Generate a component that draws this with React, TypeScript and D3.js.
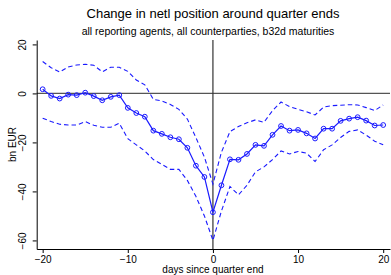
import { useEffect, useRef } from 'react';
import * as d3 from 'd3';

const days = [-20, -19, -18, -17, -16, -15, -14, -13, -12, -11, -10, -9, -8, -7, -6, -5, -4, -3, -2, -1, 0,
  1, 2, 3, 4, 5, 6, 7, 8, 9, 10, 11, 12, 13, 14, 15, 16, 17, 18, 19, 20];

const netPosition = [1.7, -1.0, -2.1, -0.5, -0.7, 0.3, -1.1, -2.8, -1.4, -0.7, -5.9, -8.0, -9.5, -15.2, -16.5, -17.9, -18.7, -22.2, -29.5, -34.1, -48.5,
  -37.5, -26.9, -27.1, -24.7, -21.0, -21.4, -16.9, -13.3, -15.2, -14.9, -16.3, -18.4, -14.4, -14.4, -11.2, -10.3, -9.7, -11.1, -13.1, -12.9];

const upperBand = [13.0, 10.5, 8.7, 10.8, 11.6, 11.9, 11.5, 8.8, 10.7, 10.7, 9.0, 5.5, 3.5, -2.4, -3.1, -4.5, -6.5, -10.5, -18.0, -26.0, -37.0,
  -24.0, -15.6, -13.5, -12.0, -10.8, -11.8, -7.0, -3.5, -5.4, -6.5, -7.5, -8.8, -5.6, -5.0, -4.8, -4.6, -4.7, -5.8, -7.0, -4.7];

const lowerBand = [-10.1, -11.5, -12.6, -12.9, -12.9, -11.5, -13.0, -13.8, -13.8, -12.2, -18.5, -21.0, -23.5, -27.0, -29.0, -31.0, -31.0, -35.5, -42.0, -50.0, -60.0,
  -48.0, -38.0, -41.4, -37.5, -32.0, -30.0, -27.0, -23.5, -24.7, -23.7, -24.4, -27.8, -23.0, -21.0, -18.0, -15.5, -14.9, -17.0, -19.5, -21.0];

const xTicks = [-20, -10, 0, 10, 20];
const yTicks = [-60, -40, -20, 0, 20];

const W = 391;
const H = 275;
const FONT = '"Liberation Sans", Arial, sans-serif';
const BLUE = '#1a1aff';

const App = () => {
  const svgRef = useRef<SVGSVGElement>(null);

  useEffect(() => {
    const svg = d3.select(svgRef.current);
    svg.selectAll('*').remove();

    const x = d3.scaleLinear().domain([-20.7, 20.8]).range([36.7, 390]);
    const y = d3.scaleLinear().domain([-63.5, 21.8]).range([249, 40]);

    // reference lines at zero
    svg.append('line')
      .attr('x1', x.range()[0]).attr('x2', x.range()[1])
      .attr('y1', y(0)).attr('y2', y(0))
      .attr('stroke', '#555').attr('stroke-width', 1.4);
    svg.append('line')
      .attr('x1', x(0)).attr('x2', x(0))
      .attr('y1', y.range()[1]).attr('y2', y.range()[0])
      .attr('stroke', '#333').attr('stroke-width', 1.2);

    // axes
    const yAxis = svg.append('g')
      .attr('transform', `translate(${x.range()[0]},0)`)
      .call(d3.axisLeft(y).tickValues(yTicks).tickSize(4).tickSizeOuter(0));
    yAxis.selectAll('text')
      .attr('transform', 'rotate(-90)')
      .attr('text-anchor', 'middle')
      .attr('x', 0).attr('y', -11).attr('dy', 0)
      .attr('font-size', 10).attr('font-family', FONT).attr('fill', '#000');

    const xAxis = svg.append('g')
      .attr('transform', `translate(0,${y.range()[0]})`)
      .call(d3.axisBottom(x).tickValues(xTicks).tickSize(4).tickSizeOuter(0));
    xAxis.selectAll('text')
      .attr('font-size', 10).attr('font-family', FONT).attr('fill', '#000');
    svg.selectAll('.domain, .tick line').attr('stroke', '#000');

    // series
    const line = d3.line<number>()
      .x((_, i) => x(days[i]))
      .y(d => y(d));

    svg.selectAll('.band')
      .data([upperBand, lowerBand])
      .enter().append('path')
      .attr('class', 'band')
      .attr('fill', 'none')
      .attr('stroke', BLUE)
      .attr('stroke-width', 1.1)
      .attr('stroke-dasharray', '4.5,3')
      .attr('d', d => line(d));

    svg.append('path')
      .attr('fill', 'none')
      .attr('stroke', BLUE)
      .attr('stroke-width', 1.2)
      .attr('d', line(netPosition));

    svg.selectAll('.point')
      .data(netPosition)
      .enter().append('circle')
      .attr('class', 'point')
      .attr('cx', (_, i) => x(days[i]))
      .attr('cy', d => y(d))
      .attr('r', 2.4)
      .attr('fill', 'none')
      .attr('stroke', BLUE)
      .attr('stroke-width', 1);

    // titles
    svg.append('text')
      .attr('x', 213).attr('y', 18)
      .attr('text-anchor', 'middle')
      .attr('font-family', FONT).attr('font-size', 13)
      .text('Change in netl position around quarter ends');
    svg.append('text')
      .attr('x', 208).attr('y', 35)
      .attr('text-anchor', 'middle')
      .attr('font-family', FONT).attr('font-size', 10.5)
      .text('all reporting agents, all counterparties, b32d maturities');
    svg.append('text')
      .attr('transform', `translate(16,${(y.range()[0] + y.range()[1]) / 2}) rotate(-90)`)
      .attr('text-anchor', 'middle')
      .attr('font-family', FONT).attr('font-size', 10)
      .text('bn EUR');
    svg.append('text')
      .attr('x', x(0)).attr('y', 273)
      .attr('text-anchor', 'middle')
      .attr('font-family', FONT).attr('font-size', 10)
      .text('days since quarter end');
  }, []);

  return (
    <div>
      <svg ref={svgRef} width={W} height={H}
        style={{ position: 'absolute', left: 0, top: 0, background: '#fff' }} />
    </div>
  );
};

export default App;
